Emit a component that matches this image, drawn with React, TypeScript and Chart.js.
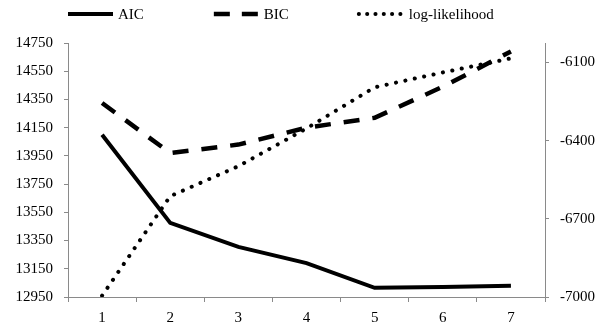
import React, { useEffect, useRef } from 'react';
import { Chart, registerables } from 'chart.js';

Chart.register(...registerables);

const categories = ['1', '2', '3', '4', '5', '6', '7'];
const aicValues = [14100, 13475, 13305, 13190, 13015, 13020, 13030];
const bicValues = [14325, 13970, 14030, 14150, 14220, 14440, 14690];
const logLikValues = [-6995, -6613, -6498, -6353, -6195, -6138, -6084];
const leftTicks = [12950, 13150, 13350, 13550, 13750, 13950, 14150, 14350, 14550, 14750];
const rightTicks = [-7000, -6700, -6400, -6100];
const leftRange = [12950, 14750];
const rightRange = [-7000, -6025];

const FONT = '"Liberation Serif", "Times New Roman", serif';
const AXIS_COLOR = '#8a8a8a';

const legendPlugin = {
  id: 'lineLegend',
  afterDraw(chart: any) {
    const ctx = chart.ctx;
    ctx.save();
    ctx.font = `15px ${FONT}`;
    ctx.textBaseline = 'middle';
    ctx.textAlign = 'left';
    let x = 68;
    const y = 14;
    chart.data.datasets.forEach((ds: any) => {
      ctx.beginPath();
      ctx.strokeStyle = ds.borderColor;
      ctx.lineWidth = ds.borderWidth;
      ctx.setLineDash(ds.legendDash || ds.borderDash || []);
      ctx.lineCap = ds.borderCapStyle || 'butt';
      ctx.moveTo(x, y);
      ctx.lineTo(x + 45, y);
      ctx.stroke();
      ctx.setLineDash([]);
      ctx.fillStyle = '#000';
      ctx.fillText(ds.label, x + 50, y + 1);
      x += 45 + 5 + ctx.measureText(ds.label).width + 70;
    });
    ctx.restore();
  },
};

export default function App() {
  const ref = useRef<HTMLCanvasElement>(null);

  useEffect(() => {
    if (!ref.current) return;
    const chart = new Chart(ref.current, {
      type: 'line',
      data: {
        labels: categories,
        datasets: [
          {
            label: 'AIC',
            data: aicValues,
            yAxisID: 'y',
            borderColor: '#000',
            borderWidth: 4,
            pointRadius: 0,
            tension: 0,
            borderCapStyle: 'butt',
          } as any,
          {
            label: 'BIC',
            data: bicValues,
            yAxisID: 'y',
            borderColor: '#000',
            borderWidth: 4.5,
            borderDash: [16, 13],
            legendDash: [16, 12],
            pointRadius: 0,
            tension: 0,
            borderCapStyle: 'butt',
          } as any,
          {
            label: 'log-likelihood',
            data: logLikValues,
            yAxisID: 'y1',
            borderColor: '#000',
            borderWidth: 4,
            borderDash: [0.1, 9.5],
            legendDash: [0.1, 8.2],
            pointRadius: 0,
            tension: 0,
            borderCapStyle: 'round',
          } as any,
        ],
      },
      options: {
        responsive: false,
        animation: false,
        layout: { padding: { top: 43, left: 0, right: 0, bottom: 0 } },
        plugins: {
          legend: { display: false },
          tooltip: { enabled: false },
        },
        scales: {
          x: {
            type: 'category',
            offset: true,
            grid: {
              display: true,
              drawOnChartArea: false,
              drawTicks: true,
              tickLength: 5,
              offset: true,
              color: AXIS_COLOR,
            },
            border: { display: true, color: AXIS_COLOR, width: 1 },
            ticks: {
              color: '#000',
              font: { family: FONT, size: 15 },
              padding: 7,
              maxRotation: 0,
            },
            afterFit: (s: any) => {
              s.height = 30;
            },
          },
          y: {
            type: 'linear',
            position: 'left',
            min: leftRange[0],
            max: leftRange[1],
            afterBuildTicks: (s: any) => {
              s.ticks = leftTicks.map((v) => ({ value: v }));
            },
            grid: {
              display: true,
              drawOnChartArea: false,
              drawTicks: true,
              tickLength: 4,
              color: AXIS_COLOR,
            },
            border: { display: true, color: AXIS_COLOR, width: 1 },
            ticks: {
              color: '#000',
              font: { family: FONT, size: 15 },
              padding: 11,
              callback: (v: any) => String(v),
            },
            afterFit: (s: any) => {
              s.width = 68;
            },
          },
          y1: {
            type: 'linear',
            position: 'right',
            min: rightRange[0],
            max: rightRange[1],
            afterBuildTicks: (s: any) => {
              s.ticks = rightTicks.map((v) => ({ value: v }));
            },
            grid: {
              display: true,
              drawOnChartArea: false,
              drawTicks: true,
              tickLength: 4,
              color: AXIS_COLOR,
            },
            border: { display: true, color: AXIS_COLOR, width: 1 },
            ticks: {
              color: '#000',
              font: { family: FONT, size: 15 },
              padding: 11,
              callback: (v: any) => String(v),
            },
            afterFit: (s: any) => {
              s.width = 63;
            },
          },
        },
      },
      plugins: [legendPlugin],
    });
    return () => chart.destroy();
  }, []);

  return (
    <div style={{ position: 'absolute', left: 0, top: 0, width: 608, height: 327, background: '#fff' }}>
      <canvas ref={ref} width={608} height={327} />
    </div>
  );
}
